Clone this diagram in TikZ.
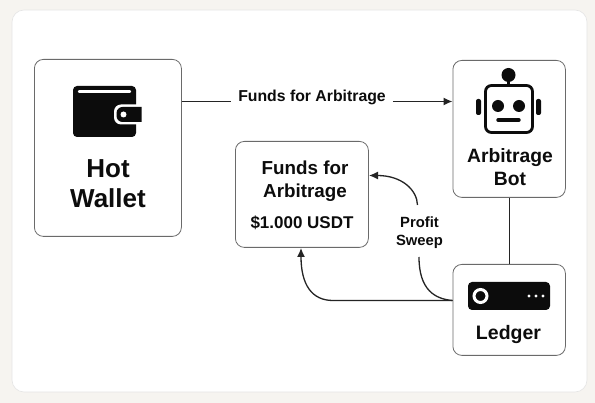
\documentclass[tikz,border=0pt]{standalone}
\usepackage{fontspec}
\setmainfont{Liberation Sans}
\usetikzlibrary{arrows.meta}
\definecolor{bgc}{HTML}{F6F4F0}
\definecolor{ink}{HTML}{0C0C0C}
\definecolor{edgec}{HTML}{6A6A6A}
\tikzset{
  cardbox/.style={draw=edgec,line width=0.8pt,fill=white,rounded corners=9pt,anchor=north west,inner sep=0pt},
  wire/.style={draw=ink!90,line width=1.3pt},
  tip/.style={-{Latex[length=9pt,width=8pt]}},
  lbl/.style={font=\bfseries,text=ink,align=center,inner sep=0pt},
}
\begin{document}
\begin{tikzpicture}[x=1pt,y=-1pt]
\useasboundingbox (0,0) rectangle (595,403);
\fill[bgc] (0,0) rectangle (595,403);
\draw[draw=black!10,fill=white,line width=0.6pt,rounded corners=12pt] (12,10) rectangle (587,392);
% boxes
\node[cardbox,minimum width=147pt,minimum height=177pt] (hot) at (34,59) {};
\node[cardbox,minimum width=112.5pt,minimum height=137pt] (bot) at (452.5,60) {};
\node[cardbox,minimum width=133pt,minimum height=106pt] (funds) at (235,141) {};
\node[cardbox,minimum width=112.5pt,minimum height=91pt] (ledger) at (452.5,264) {};
% wallet icon
\fill[ink,rounded corners=4pt] (73,86) rectangle (136,137);
\draw[white,line width=2.4pt,line cap=round] (79,91.5) -- (130,91.5);
\fill[white,rounded corners=7pt] (114,104.5) -- (146,104.5) -- (146,124.5) -- (114,124.5) -- cycle;
\fill[ink,rounded corners=6pt] (116.5,107) -- (130,107) [sharp corners] -- (141.5,107) -- (141.5,122) -- (125,122) [rounded corners=6pt] -- (116.5,122) -- cycle;
\fill[white] (123.5,114.5) circle (3pt);
% robot icon
\draw[ink,line width=2.8pt,rounded corners=6pt] (485.5,85.5) rectangle (532.5,132.5);
\fill[ink] (508.5,75) circle (7pt);
\draw[ink,line width=3pt] (508.5,78) -- (508.5,85);
\fill[ink] (498,106) circle (6pt);
\fill[ink] (519,106) circle (6pt);
\draw[ink,line width=3.4pt,line cap=round] (498,120) -- (519,120);
\fill[ink,rounded corners=2pt] (476,99) rectangle (481,115);
\fill[ink,rounded corners=2pt] (536,99) rectangle (541,115);
% ledger icon
\fill[ink,rounded corners=4pt] (468,282) rectangle (550,310);
\draw[white,line width=3pt] (480.5,296) circle (6.5pt);
\fill[white] (529,296) circle (1.7pt) (536,296) circle (1.7pt) (543,296) circle (1.7pt);
% texts
\node[lbl,font=\bfseries\fontsize{26}{30}\selectfont] (hotlbl) at (108,184) {Hot\\Wallet};
\node[lbl,font=\bfseries\fontsize{19.3}{23}\selectfont] (botlbl) at (510,167) {Arbitrage\\Bot};
\node[lbl,font=\bfseries\fontsize{18.8}{23}\selectfont] (fundslbl) at (305,181) {Funds for\\Arbitrage};
\node[lbl,font=\bfseries\fontsize{17}{18}\selectfont] (usdt) at (302,222.5) {\$1.000 USDT};
\node[lbl,font=\bfseries\fontsize{19.5}{22}\selectfont] (ledgerlbl) at (508.5,334.5) {Ledger};
\node[lbl,font=\bfseries\fontsize{15.8}{17}\selectfont,inner xsep=7pt] (top) at (312,97) {Funds for Arbitrage};
\node[lbl,font=\bfseries\fontsize{14.8}{18}\selectfont,inner ysep=7pt] (sweep) at (419.5,233) {Profit\\Sweep};
% coordinates
\coordinate (topa) at (hot.east |- 0,101.5);
\coordinate (topb) at (bot.west |- 0,101.5);
\coordinate (topm) at (top.west |- 0,101.5);
\coordinate (topn) at (top.east |- 0,101.5);
\coordinate (lout) at (ledger.west |- 0,300.5);
\coordinate (finb) at (301,248);
\coordinate (finr) at (369,175.5);
\coordinate (swlo) at (419,257);
\coordinate (swhi) at (417.5,205);
% connectors
\draw[wire] (topa) -- (topm);
\draw[wire,tip] (topn) -- (topb);
\draw[wire] (bot.south) -- (ledger.north);
\draw[wire,tip] (lout) -- (333,300.5) .. controls (312,300.5) and (301,285) .. (finb);
\draw[wire] (lout) .. controls (435,299) and (419,290) .. (swlo);
\draw[wire,tip] (swhi) .. controls (417,190) and (402,175.5) .. (finr);
\end{tikzpicture}
\end{document}
